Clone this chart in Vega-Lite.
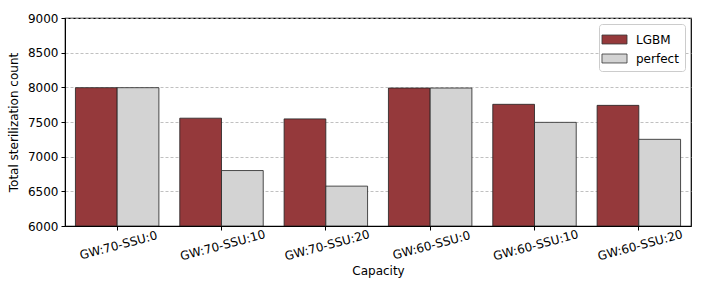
{
  "$schema": "https://vega.github.io/schema/vega-lite/v6.json",
  "width": 626,
  "height": 208,
  "autosize": {"type": "none"},
  "padding": {"left": 65, "top": 18, "right": 14, "bottom": 68},
  "background": "white",
  "config": {
    "font": "DejaVu Sans",
    "view": {"stroke": "black", "strokeWidth": 1.2},
    "axis": {"labelFont": "DejaVu Sans", "titleFont": "DejaVu Sans", "labelFontSize": 12, "titleFontSize": 12, "titleFontWeight": "normal", "labelColor": "black", "titleColor": "black", "domainColor": "black", "tickColor": "black"}
  },
  "data": {
    "values": [
      {"capacity": "GW:70-SSU:0", "model": "LGBM", "count": 7995},
      {"capacity": "GW:70-SSU:0", "model": "perfect", "count": 7995},
      {"capacity": "GW:70-SSU:10", "model": "LGBM", "count": 7555},
      {"capacity": "GW:70-SSU:10", "model": "perfect", "count": 6800},
      {"capacity": "GW:70-SSU:20", "model": "LGBM", "count": 7545},
      {"capacity": "GW:70-SSU:20", "model": "perfect", "count": 6575},
      {"capacity": "GW:60-SSU:0", "model": "LGBM", "count": 7990},
      {"capacity": "GW:60-SSU:0", "model": "perfect", "count": 7990},
      {"capacity": "GW:60-SSU:10", "model": "LGBM", "count": 7755},
      {"capacity": "GW:60-SSU:10", "model": "perfect", "count": 7495},
      {"capacity": "GW:60-SSU:20", "model": "LGBM", "count": 7740},
      {"capacity": "GW:60-SSU:20", "model": "perfect", "count": 7250}
    ]
  },
  "mark": {"type": "bar", "clip": true, "stroke": "#222222", "strokeWidth": 1, "strokeOpacity": 0.8},
  "encoding": {
    "x": {
      "field": "capacity", "type": "nominal", "sort": null,
      "scale": {"paddingInner": 0.2, "paddingOuter": 0.1},
      "axis": {"title": "Capacity", "labelAngle": -15, "labelAlign": "center", "labelBaseline": "top", "labelPadding": 10, "titlePadding": 4, "tickSize": 4, "grid": false}
    },
    "xOffset": {"field": "model", "type": "nominal", "scale": {"paddingInner": 0, "paddingOuter": 0}},
    "y": {
      "field": "count", "type": "quantitative",
      "scale": {"domain": [6000, 9000], "nice": false, "zero": false},
      "axis": {"title": "Total sterilization count", "format": "d", "values": [6000, 6500, 7000, 7500, 8000, 8500, 9000], "tickSize": 4, "labelPadding": 3, "titlePadding": 7, "grid": true, "gridDash": [3, 2], "gridColor": "#b0b0b0", "gridWidth": 0.8}
    },
    "y2": {"datum": 6000},
    "color": {
      "field": "model", "type": "nominal",
      "scale": {"domain": ["LGBM", "perfect"], "range": ["#95393b", "#d3d3d3"]},
      "legend": {"title": null, "orient": "top-right", "offset": 6, "fillColor": "white", "strokeColor": "#cccccc", "cornerRadius": 3, "padding": 6, "symbolType": "M-1.4,-0.5H1.4V0.5H-1.4Z", "symbolStrokeColor": "#333333", "symbolStrokeWidth": 0.8, "symbolSize": 320, "labelFontSize": 12, "labelFont": "DejaVu Sans", "labelColor": "black", "labelOffset": 12, "rowPadding": 3}
    }
  }
}
